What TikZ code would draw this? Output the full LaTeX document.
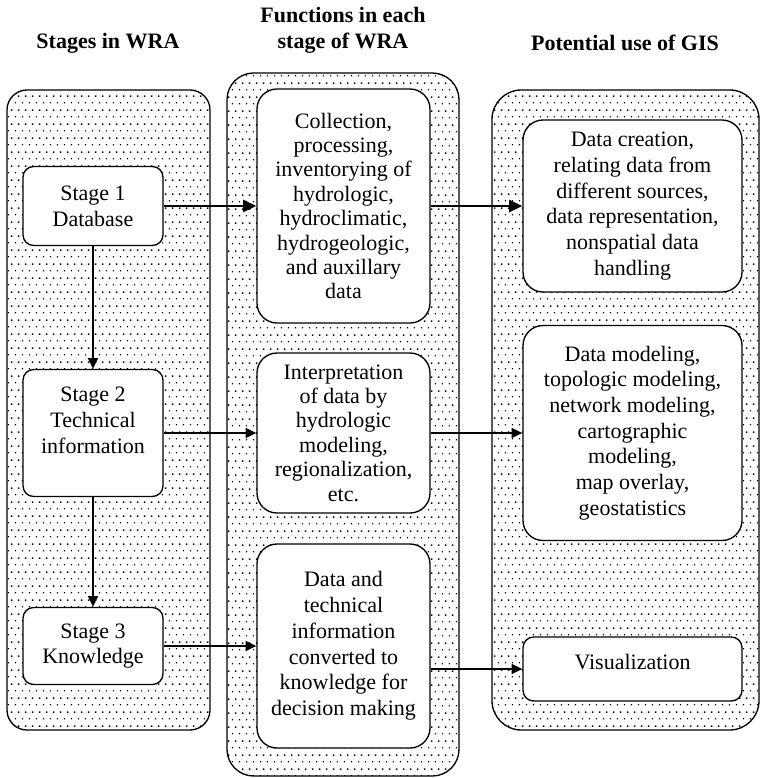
\documentclass[tikz,border=0pt]{standalone}
\usepackage{fontspec}
\setmainfont{Liberation Serif}
\usepackage{tikz}
\usetikzlibrary{arrows.meta, patterns, positioning}

\pgfdeclarepatternformonly{wradots}{\pgfpointorigin}{\pgfqpoint{5.25pt}{10.5pt}}{\pgfqpoint{5.25pt}{10.5pt}}{%
  \pgfpathrectangle{\pgfqpoint{0.8pt}{2.1pt}}{\pgfqpoint{1.1pt}{1.1pt}}%
  \pgfpathrectangle{\pgfqpoint{3.4pt}{7.35pt}}{\pgfqpoint{1.1pt}{1.1pt}}%
  \pgfusepath{fill}}

\begin{document}
\begin{tikzpicture}[x=0.75pt, y=-0.75pt,
  column/.style={rectangle, draw, line width=1pt, pattern=wradots, inner sep=0pt},
  box/.style={rectangle, draw, fill=white, line width=1pt, rounded corners=15pt,
              align=center, inner sep=0pt, font=\fontsize{16.5}{19.3}\selectfont},
  stagebox/.style={box, rounded corners=8pt, minimum width=105pt},
  funcbox/.style={box, minimum width=129.75pt},
  tightbox/.style={funcbox, font=\fontsize{16.5}{18.3}\selectfont},
  gisbox/.style={box, minimum width=164.25pt},
  title/.style={align=center, font=\fontsize{16.5}{19.5}\selectfont\bfseries},
  arr/.style={-{Triangle[length=8pt, width=7.5pt]}, line width=1.3pt},
  arrbold/.style={arr, -{Triangle[length=10pt, width=9pt]}, line width=2.2pt}
]
  \useasboundingbox (0,0) rectangle (760,778);

  \node[column, rounded corners=15pt, minimum width=152.25pt, minimum height=480pt] (colstage) at (108.5,410) {};
  \node[column, rounded corners=20pt, minimum width=174pt, minimum height=527.25pt] (colfunc) at (343,424.5) {};
  \node[column, rounded corners=22pt, minimum width=200.25pt, minimum height=480pt] (colgis) at (625.5,410) {};

  \node[title] (tstage) at (108,43) {Stages in WRA};
  \node[title] (tfunc)  at (343,30) {Functions in each\\stage of WRA};
  \node[title] (tgis)   at (625,43) {Potential use of GIS};

  \node[stagebox, minimum height=59.25pt] (s1) at (93,206) {Stage 1\\Database};
  \node[stagebox, minimum height=95.25pt] (s2) at (93,433) {Stage 2\\Technical\\information\\\mbox{}};
  \node[stagebox, minimum height=57.75pt] (s3) at (93,646) {Stage 3\\Knowledge};

  \node[tightbox, minimum height=175.5pt] (m1) at (343.5,206) {Collection,\\processing,\\inventorying of\\hydrologic,\\hydroclimatic,\\hydrogeologic,\\and auxillary\\data};
  \node[tightbox, minimum height=120pt] (m2) at (343.5,433) {Interpretation\\of data by\\hydrologic\\modeling,\\regionalization,\\etc.};
  \node[funcbox, minimum height=153pt] (m3) at (343.5,646) {Data and\\technical\\information\\converted to\\knowledge for\\decision making};

  \node[gisbox, minimum height=129pt] (g1) at (632.5,206) {Data creation,\\relating data from\\different sources,\\data representation,\\nonspatial data\\handling};
  \node[gisbox, minimum height=161.25pt] (g2) at (632.5,433) {Data modeling,\\topologic modeling,\\network modeling,\\cartographic\\modeling,\\map overlay,\\geostatistics};
  \node[gisbox, rounded corners=8pt, minimum height=48pt] (g3) at (632.5,669) {Visualization\\[-9pt]\mbox{}};

  \draw[arrbold] (s1) -- (m1);
  \draw[arrbold] (m1) -- (g1);
  \draw[arr] (s1) -- (s2);
  \draw[arr] (s2) -- (s3);
  \draw[arr] (s2) -- (m2);
  \draw[arr] (m2) -- (g2);
  \draw[arr] (s3) -- (m3);
  \draw[arr] (m3.east |- g3) -- (g3);
\end{tikzpicture}
\end{document}
